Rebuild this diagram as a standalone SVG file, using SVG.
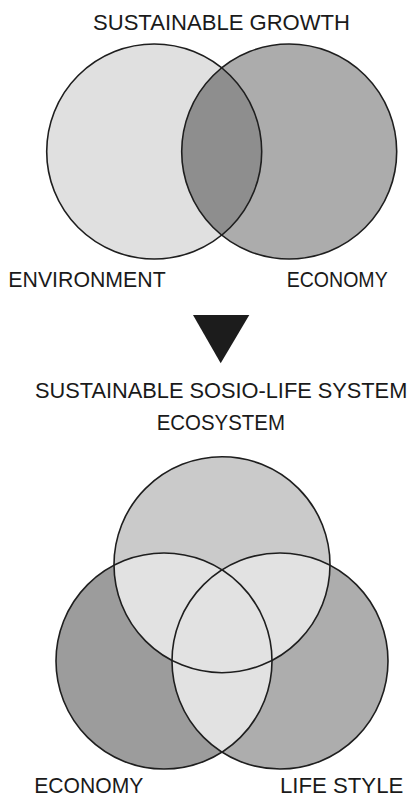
<svg xmlns="http://www.w3.org/2000/svg" width="413" height="798" viewBox="0 0 413 798">
  <style>
    .lbl { font-family: "Liberation Sans", Arial, sans-serif; font-size: 22px; fill: #1a1a1a; }
    .ring { fill: none; stroke: #1e1e1e; stroke-width: 1.6; }
  </style>
  <defs>
    <clipPath id="clipEnv"><circle cx="154.2" cy="151.5" r="107.5"/></clipPath>
    <clipPath id="clipEco"><circle cx="222" cy="564.7" r="108"/></clipPath>
    <clipPath id="clipEcon"><circle cx="164" cy="661" r="108"/></clipPath>
  </defs>
  <rect width="413" height="798" fill="#ffffff"/>

  <!-- Sustainable growth: two-set Venn -->
  <text class="lbl" x="93" y="30" textLength="257" lengthAdjust="spacingAndGlyphs">SUSTAINABLE  GROWTH</text>
  <g id="environment">
    <circle cx="154.2" cy="151.5" r="107.5" fill="#e0e0e0"/>
  </g>
  <g id="economy-top">
    <circle cx="289.2" cy="151.5" r="107.5" fill="#acacac"/>
  </g>
  <g id="overlap-top">
    <circle cx="289.2" cy="151.5" r="107.5" fill="#8e8e8e" clip-path="url(#clipEnv)"/>
  </g>
  <circle class="ring" cx="154.2" cy="151.5" r="107.5"/>
  <circle class="ring" cx="289.2" cy="151.5" r="107.5"/>
  <text class="lbl" x="8.3" y="287" textLength="157.4" lengthAdjust="spacingAndGlyphs">ENVIRONMENT</text>
  <text class="lbl" x="286.7" y="287" textLength="101" lengthAdjust="spacingAndGlyphs">ECONOMY</text>

  <!-- Transition arrow -->
  <g id="connectors">
    <polygon points="193,315 249.3,315 220.7,363.3" fill="#1c1c1c"/>
  </g>

  <!-- Sustainable socio-life system: three-set Venn -->
  <text class="lbl" x="35" y="397.7" textLength="372.3" lengthAdjust="spacingAndGlyphs">SUSTAINABLE  SOSIO-LIFE  SYSTEM</text>
  <text class="lbl" x="156.7" y="430" textLength="128.3" lengthAdjust="spacingAndGlyphs">ECOSYSTEM</text>

  <g id="ecosystem">
    <circle cx="222" cy="564.7" r="108" fill="#cacaca"/>
  </g>
  <g id="economy-bottom">
    <circle cx="164" cy="661" r="108" fill="#9c9c9c"/>
  </g>
  <g id="life-style">
    <circle cx="280" cy="661" r="108" fill="#adadad"/>
  </g>
  <g id="overlaps">
    <circle cx="164" cy="661" r="108" fill="#e2e2e2" clip-path="url(#clipEco)"/>
    <circle cx="280" cy="661" r="108" fill="#e2e2e2" clip-path="url(#clipEco)"/>
    <circle cx="280" cy="661" r="108" fill="#e2e2e2" clip-path="url(#clipEcon)"/>
  </g>
  <circle class="ring" cx="222" cy="564.7" r="108"/>
  <circle class="ring" cx="164" cy="661" r="108"/>
  <circle class="ring" cx="280" cy="661" r="108"/>

  <text class="lbl" x="34.3" y="793" textLength="109" lengthAdjust="spacingAndGlyphs">ECONOMY</text>
  <text class="lbl" x="280" y="793" textLength="123.3" lengthAdjust="spacingAndGlyphs">LIFE  STYLE</text>
</svg>
